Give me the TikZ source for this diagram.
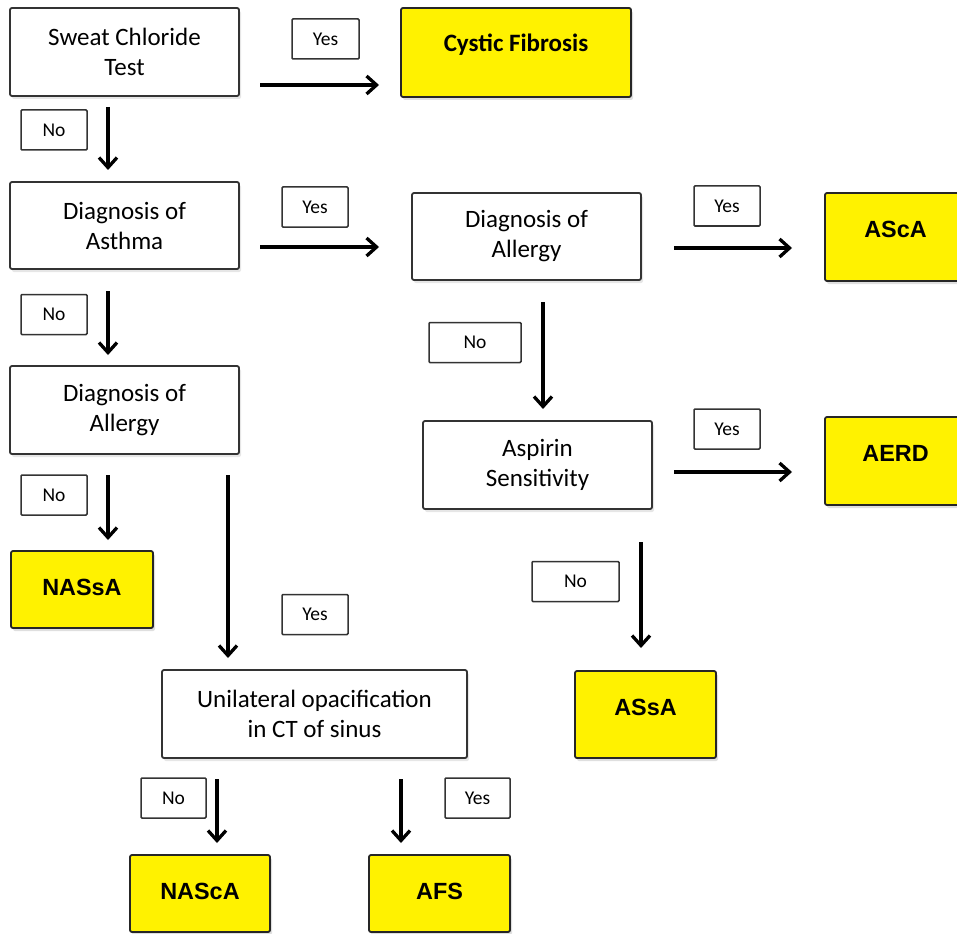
\documentclass[tikz,border=0pt]{standalone}
\usepackage{fontspec}
\setmainfont{Carlito}
\newfontfamily\headfont{Liberation Sans}
\usetikzlibrary{calc,arrows.meta,shadows}

\tikzset{
  plainbox/.style = {draw=black!80, line width=1.8pt, rounded corners=2pt, fill=white, inner sep=0pt, outer sep=0pt,
                     align=center, font=\fontsize{25}{30}\selectfont,
                     drop shadow={opacity=0.2, shadow xshift=2pt, shadow yshift=-3pt}},
  yellowbox/.style = {draw=black!85, line width=1.8pt, rounded corners=2pt, fill=yellow, inner sep=0pt, outer sep=0pt,
                      text height=44pt, font=\headfont\bfseries\fontsize{23.4}{28}\selectfont,
                      drop shadow={opacity=0.25, shadow xshift=2pt, shadow yshift=-3pt}},
  answer/.style = {draw=black!80, line width=1.5pt, rounded corners=1pt, fill=white, inner sep=0pt, outer sep=0pt,
                   font=\fontsize{19.5}{23}\selectfont, minimum height=40pt},
  arr/.style = {line width=3.3pt, -{Straight Barb[length=10pt,width=18pt]}}
}

\begin{document}
\begin{tikzpicture}[x=1pt, y=-1pt]
  \useasboundingbox (0,0) rectangle (957,933);
  \clip (0,0) rectangle (957,933);

  \node[plainbox, minimum width=229pt, minimum height=88pt] (sweat) at (124.5,52) {Sweat Chloride\\Test};
  \node[yellowbox, minimum width=230pt, text depth=45pt, font=\bfseries\fontsize{25}{30}\selectfont] (cf) at (516,52.5) {Cystic Fibrosis};
  \node[plainbox, minimum width=229pt, minimum height=87pt] (asthma) at (124.5,225.5) {Diagnosis of\\Asthma};
  \node[plainbox, minimum width=229pt, minimum height=87pt] (allergyR) at (526.5,236.5) {Diagnosis of\\Allergy};
  \node[yellowbox, minimum width=141pt, text depth=44pt] (asca) at (895.5,237) {AScA};
  \node[plainbox, minimum width=229pt, minimum height=88pt] (allergyL) at (124.5,410) {Diagnosis of\\Allergy};
  \node[plainbox, minimum width=229pt, minimum height=88pt] (aspirin) at (537.5,465) {Aspirin\\Sensitivity};
  \node[yellowbox, minimum width=141pt, text depth=44pt] (aerd) at (895.5,461) {AERD};
  \node[yellowbox, minimum width=142pt, text depth=33pt] (nassa) at (82,589.5) {NASsA};
  \node[yellowbox, minimum width=141pt, text depth=43pt] (assa) at (645.5,714.5) {ASsA};
  \node[plainbox, minimum width=305pt, minimum height=88pt] (unilat) at (314.5,714) {Unilateral opacification\\in CT of sinus};
  \node[yellowbox, minimum width=140pt, text depth=33pt] (nasca) at (200,893.5) {NAScA};
  \node[yellowbox, minimum width=141pt, text depth=33pt] (afs) at (439.5,893.5) {AFS};

  \node[answer, minimum width=67pt] (yes1) at (325.5,39) {Yes};
  \node[answer, minimum width=66pt] (no1) at (54,130) {No};
  \node[answer, minimum width=66pt] (yes2) at (315,207) {Yes};
  \node[answer, minimum width=66pt] (yes3) at (727,206) {Yes};
  \node[answer, minimum width=66pt] (no2) at (54,314.5) {No};
  \node[answer, minimum width=92pt] (no3) at (475,342.5) {No};
  \node[answer, minimum width=66pt] (yes4) at (727,429) {Yes};
  \node[answer, minimum width=66pt] (no4) at (54,495) {No};
  \node[answer, minimum width=87pt] (no5) at (575.5,581.5) {No};
  \node[answer, minimum width=66pt] (yes5) at (315,614.5) {Yes};
  \node[answer, minimum width=65pt] (no6) at (173.5,798) {No};
  \node[answer, minimum width=65pt] (yes6) at (477.5,798) {Yes};

  \draw[arr] ($(sweat.south east)+(21,-11)$) -- ($(cf.south west)+(-22,-12)$);
  \draw[arr] ($(sweat.south)+(-16.5,11)$) -- ($(asthma.north)+(-16.5,-12)$);
  \draw[arr] ($(asthma.south east)+(21,-22)$) -- ($(allergyR.south west)+(-33,-33)$);
  \draw[arr] ($(asthma.south)+(-16.5,22)$) -- ($(allergyL.north)+(-16.5,-11)$);
  \draw[arr] ($(allergyR.south east)+(33,-32)$) -- ($(asca.south west)+(-33,-33)$);
  \draw[arr] ($(allergyR.south)+(16.5,22)$) -- ($(aspirin.north)+(5.5,-12)$);
  \draw[arr] ($(aspirin.south east)+(22,-37)$) -- ($(aerd.south west)+(-33,-33)$);
  \draw[arr] ($(allergyL.south)+(-16.5,21)$) -- ($(nassa.north)+(26,-11)$);
  \draw[arr] ($(allergyL.south east)+(-11,21)$) -- ($(unilat.north)+(-86.5,-12)$);
  \draw[arr] ($(aspirin.south)+(103.5,33)$) -- ($(assa.north)+(-4.5,-23)$);
  \draw[arr] ($(unilat.south)+(-97.5,21)$) -- ($(nasca.north)+(17,-12)$);
  \draw[arr] ($(unilat.south)+(86.5,21)$) -- ($(afs.north)+(-38.5,-12)$);
\end{tikzpicture}
\end{document}
